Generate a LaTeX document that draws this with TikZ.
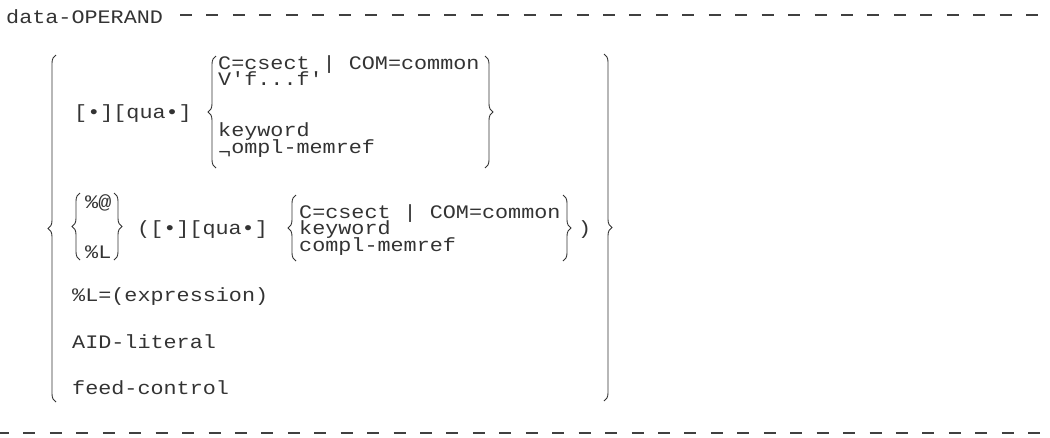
\documentclass[tikz,border=0pt]{standalone}
\usepackage{fontspec}
\setmonofont{Liberation Mono}[FakeStretch=1.14]
\usetikzlibrary{decorations.pathreplacing}

\begin{document}
\begin{tikzpicture}[x=1pt,y=-1pt]
    \useasboundingbox (0,0) rectangle (1050,437);

    \begin{scope}[every node/.style={anchor=base west,inner sep=0pt,text=black!80,
        font=\ttfamily\fontsize{19.1}{16.7}\selectfont}]
      \node (title) at (6,23) {data-OPERAND};
      % first alternative
      \node (qua1) at (74,118) {[•][qua•]};
      \node (c1) at (218,69) {C=csect | COM=common};
      \node (v1) at (218,85.5) {V'f...f'};
      \node (k1) at (218,136) {keyword};
      \node (m1) at (218,153) {\raisebox{-5pt}{¬}ompl-memref};
      % second alternative
      \node (at2) at (85,208) {\%@};
      \node (pl2) at (85,258) {\%L};
      \node (qua2) at (137,234.7) {([•][qua•]};
      \node (c2) at (299,218) {C=csect | COM=common};
      \node (k2) at (299,234.7) {keyword};
      \node (m2) at (299,251.4) {compl-memref};
      \node (cl2) at (578,234.7) {)};
      % the rest
      \node (expr) at (72,301) {\%L=(expression)};
      \node (aid) at (72,348) {AID-literal};
      \node (feed) at (72,394) {feed-control};
    \end{scope}

    \begin{scope}[black!75,line width=1.8pt]
      \draw[dash pattern=on 12pt off 14.44pt] (180,15) -- (1038,15);
      \draw[dash pattern=on 12pt off 14.44pt,dash phase=3pt] (0,433) -- (1050,433);
    \end{scope}

    \begin{scope}[decoration={brace,amplitude=8pt},line width=0.9pt,black!80]
      \draw[decorate] (56,402) -- (56,55);
      \draw[decorate] (604,54) -- (604,401);
      \draw[decorate] (216,168) -- (216,56);
      \draw[decorate] (485,56) -- (485,168);
      \draw[decorate] (80,260) -- (80,193);
      \draw[decorate] (114,193) -- (114,260);
      \draw[decorate] (296,261) -- (296,195);
      \draw[decorate] (563,195) -- (563,261);
    \end{scope}
\end{tikzpicture}
\end{document}
